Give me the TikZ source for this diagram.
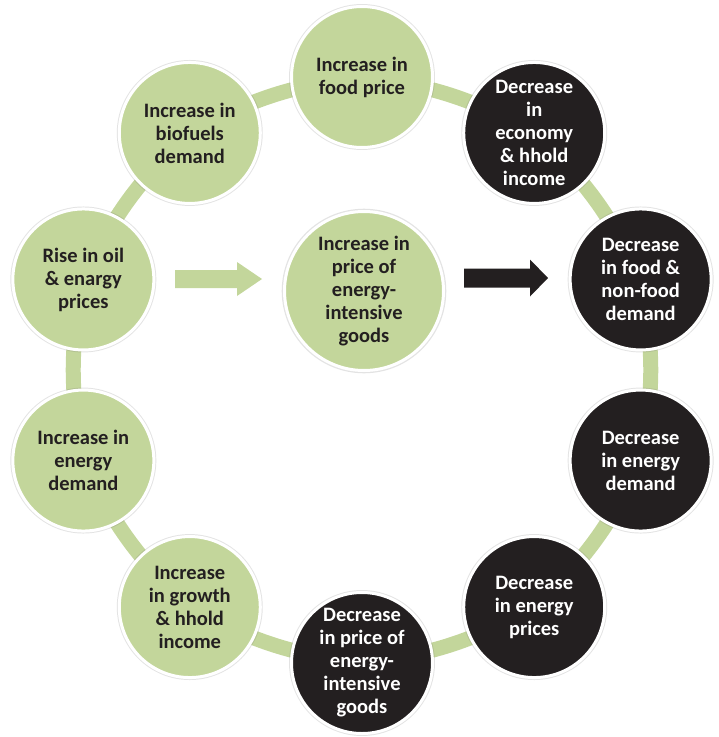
\documentclass[tikz,border=0pt]{standalone}
\usepackage{fontspec}
\setmainfont{Carlito}
\usetikzlibrary{shadows,backgrounds,calc}
\definecolor{sage}{RGB}{195,214,155}
\definecolor{ink}{RGB}{35,31,32}
\begin{document}
\begin{tikzpicture}[x=1pt,y=1pt,
  basecircle/.style={circle, minimum size=141pt, inner sep=0pt, draw=white, line width=3pt,
    align=center, font=\fontsize{20.5}{23}\selectfont\bfseries,
    drop shadow={shadow xshift=0pt, shadow yshift=0pt, shadow scale=1.035, opacity=0.18, fill=black!60}},
  greennode/.style={basecircle, fill=sage, text=ink},
  darknode/.style={basecircle, fill=ink, text=white},
  conn/.style={draw=sage, line width=15pt},
]
\useasboundingbox (0,0) rectangle (719,-737);
\coordinate (c) at (362,-370);
\node[greennode] (food)   at ($(c)+(90:293)$)   {Increase in\\food price};
\node[darknode] (econ)   at ($(c)+(54:293)$)   {Decrease\\in\\economy\\\& hhold\\income};
\node[darknode] (fnf)    at ($(c)+(18:293)$)   {Decrease\\in food \&\\non-food\\demand};
\node[darknode] (edec)   at ($(c)+(-18:293)$)  {Decrease\\in energy\\demand};
\node[darknode] (pdec)   at ($(c)+(-54:293)$)  {Decrease\\in energy\\prices};
\node[darknode] (gdec)   at ($(c)+(-90:293)$)  {Decrease\\in price of\\energy-\\intensive\\goods};
\node[greennode] (growth) at ($(c)+(-126:293)$) {Increase\\in growth\\\& hhold\\income};
\node[greennode] (einc)   at ($(c)+(-162:293)$) {Increase in\\energy\\demand};
\node[greennode] (rise)   at ($(c)+(162:293)$)  {Rise in oil\\\& enargy\\prices};
\node[greennode] (bio)    at ($(c)+(126:293)$)  {Increase in\\biofuels\\demand};
\node[greennode, minimum size=159pt] (mid) at (364,-291) {Increase in\\price of\\energy-\\intensive\\goods};
% block arrows
\coordinate (gtail) at (175,-279);
\coordinate (ktail) at (464,-278);
\fill[sage] (gtail) ++(0,9) -- ++(62,0) -- ++(0,8) -- ++(25,-17) -- ++(-25,-17)
  -- ++(0,8) -- ++(-62,0) -- cycle;
\fill[ink] (ktail) ++(0,9.5) -- ++(66,0) -- ++(0,9) -- ++(18,-18.5) -- ++(-18,-18.5)
  -- ++(0,9) -- ++(-66,0) -- cycle;
\begin{scope}[on background layer]
\draw[conn] (food.center) to[bend left=11] (econ.center);
\draw[conn] (econ.center) to[bend left=11] (fnf.center);
\draw[conn] (fnf.center) to[bend left=11] (edec.center);
\draw[conn] (edec.center) to[bend left=11] (pdec.center);
\draw[conn] (pdec.center) to[bend left=11] (gdec.center);
\draw[conn] (gdec.center) to[bend left=11] (growth.center);
\draw[conn] (growth.center) to[bend left=11] (einc.center);
\draw[conn] (einc.center) to[bend left=11] (rise.center);
\draw[conn] (rise.center) to[bend left=11] (bio.center);
\draw[conn] (bio.center) to[bend left=11] (food.center);
\end{scope}
\end{tikzpicture}
\end{document}
